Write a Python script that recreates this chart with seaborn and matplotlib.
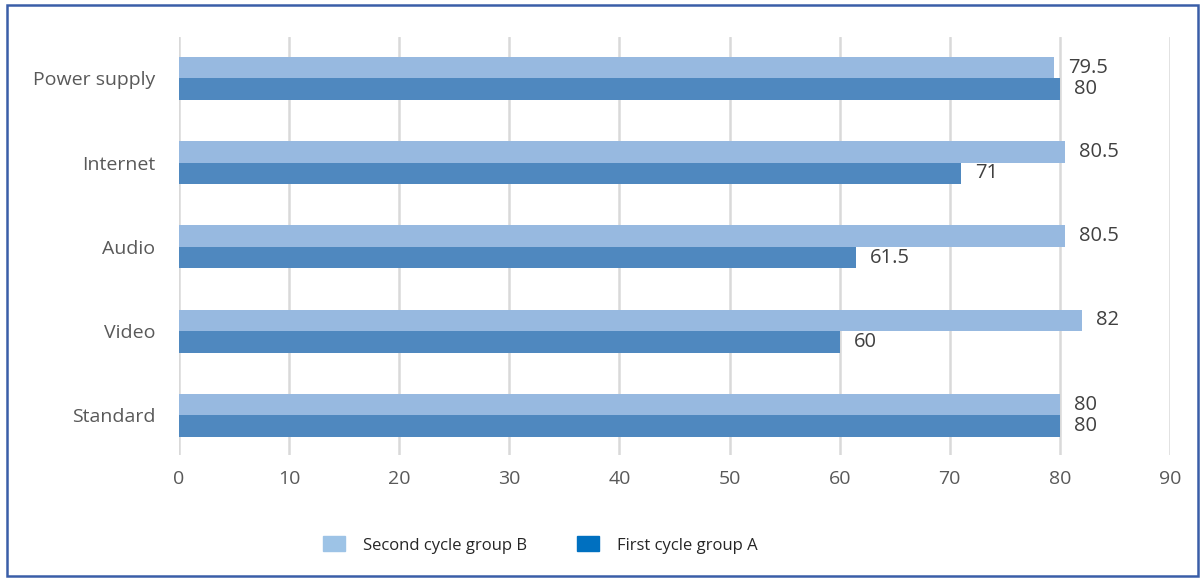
import pandas as pd
import matplotlib.pyplot as plt
import seaborn as sns
from matplotlib.patches import Patch, Rectangle

categories = ['Power supply', 'Internet', 'Audio', 'Video', 'Standard']
second_b = [79.5, 80.5, 80.5, 82, 80]
first_a = [80, 71, 61.5, 60, 80]
groups = ['Second cycle group B', 'First cycle group A']

df = pd.DataFrame({
    'category': categories * 2,
    'value': second_b + first_a,
    'group': [groups[0]] * len(categories) + [groups[1]] * len(categories),
})

sns.set_style('white')
plt.rcParams['font.family'] = ['Open Sans', 'DejaVu Sans']

fig = plt.figure(figsize=(12.03, 5.78), dpi=100)
ax = fig.add_axes([0.1488, 0.2128, 0.8238, 0.7232])

bar_colors = ['#97B9E0', '#4F88BF']
sns.barplot(data=df, x='value', y='category', hue='group', hue_order=groups,
            order=categories, orient='h', palette=bar_colors, width=0.51,
            gap=0, linewidth=0, saturation=1, ax=ax, legend=False)

for cont in ax.containers:
    labels = [f'{v:g}' for v in cont.datavalues]
    ax.bar_label(cont, labels=labels, padding=10, fontsize=14.5, color='#404040')

ax.set_xlim(0, 90)
ax.set_ylim(4.47, -0.49)
ax.set_xticks(range(0, 91, 10))
ax.grid(axis='x', color='#D9D9D9', linewidth=1.8)
ax.set_axisbelow(True)
for s in ax.spines.values():
    s.set_visible(False)
ax.tick_params(axis='both', length=0, labelsize=14, labelcolor='#595959')
ax.tick_params(axis='x', pad=11)
ax.tick_params(axis='y', pad=17)
ax.set_xlabel('')
ax.set_ylabel('')

handles = [Patch(color='#9DC3E6'), Patch(color='#0070C0')]
fig.legend(handles, groups, loc='center', bbox_to_anchor=(0.449, 0.057), ncol=2,
           frameon=False, fontsize=12, handlelength=1.3, handleheight=1.0,
           columnspacing=3.0, handletextpad=1.1)

fig.patches.append(Rectangle((0.006, 0.004), 0.99, 0.987, transform=fig.transFigure,
                             fill=False, edgecolor='#3A5EA8', linewidth=1.8))

fig.savefig('out.png', dpi=100)
